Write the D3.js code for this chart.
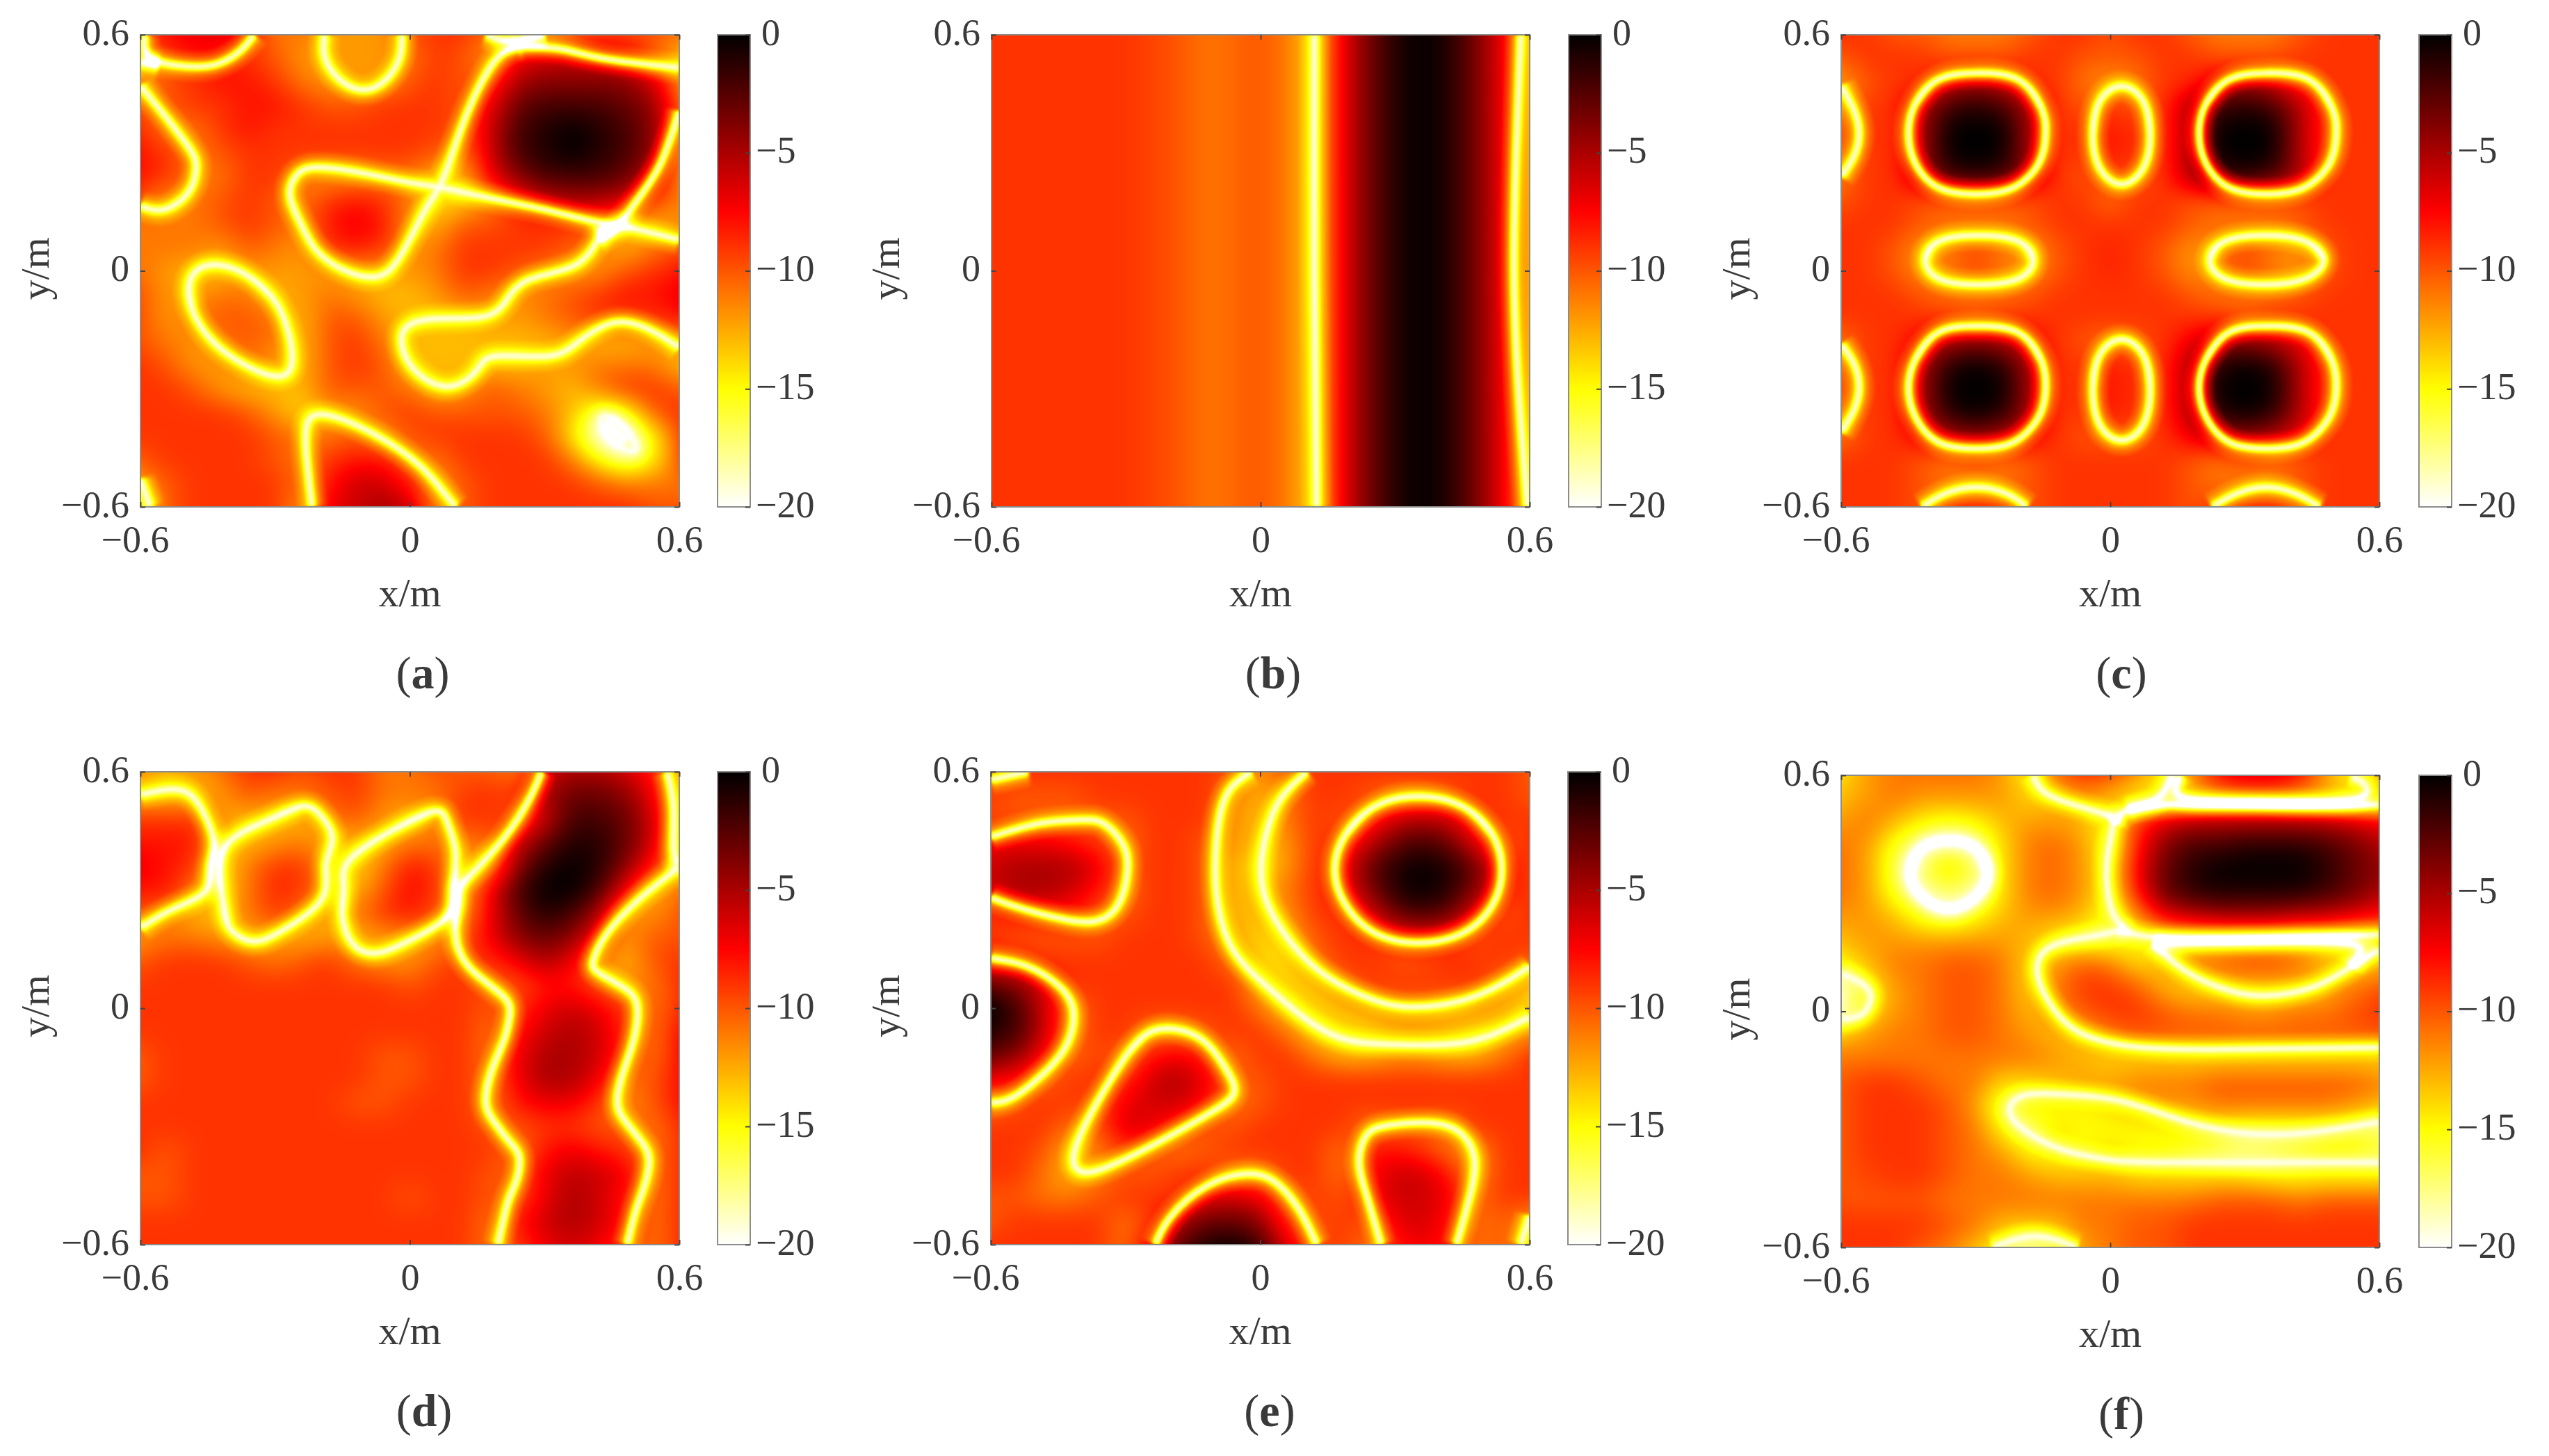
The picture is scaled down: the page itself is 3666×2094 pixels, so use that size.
<!DOCTYPE html>
<html>
<head>
<meta charset="utf-8">
<script src="https://cdn.jsdelivr.net/npm/d3@7"></script>
<style>
body { margin: 0; background: #fff; }
svg text { font-family: "Liberation Serif", serif; fill: #3a3a3a; }
</style>
</head>
<body>
<script>
// level below the peak, in dB (shown as negative), on a 0.06 m lattice, top row is y = 0.6
var gridA = [
[9,8,7,7,8,11,11,12,12,12,10,9,9,11,12,11,10,9,9,10,11],
[12,9,8,8,9,10,12,12,12,12,11,9,10,12,7,6,6,6,7,10,13],
[12,10,9,8,8,9,11,12,12,12,10,9,10,9,5,4,4,4,4,6,11],
[10,10,9,9,8,8,9,10,10,9,9,9,10,7,3,2,2,2,3,4,10],
[9,11,11,9,8,9,9,9,9,9,9,9,10,6,2,1,0,1,2,4,9],
[8,9,11,10,9,9,9,9,9,9,9,10,11,6,2,1,0,1,2,4,10],
[8,9,11,11,9,9,11,12,12,11,11,13,13,7,4,2,2,2,3,6,11],
[10,12,11,10,9,10,11,9,8,9,11,14,14,11,8,6,5,5,6,9,11],
[11,11,11,10,9,10,11,8,7,8,12,13,10,10,9,9,9,10,12,13,12],
[11,11,11,12,10,11,12,9,8,9,12,11,9,9,9,9,10,11,13,11,10],
[11,12,13,13,12,12,12,12,12,12,12,11,9,9,10,11,12,12,10,9,8],
[10,12,12,11,11,13,12,11,12,13,13,12,10,11,12,11,10,9,8,8,7],
[10,12,11,10,10,11,13,10,10,12,13,13,13,12,12,11,10,9,9,9,8],
[10,11,12,11,10,11,13,10,9,11,13,13,13,13,13,13,12,13,13,12,12],
[9,10,12,12,11,12,13,10,9,10,13,13,13,13,13,12,12,11,11,11,13],
[9,9,10,12,13,13,13,10,10,10,11,13,12,10,11,12,13,11,9,9,10],
[9,9,9,9,10,12,14,12,12,10,9,10,10,10,10,11,13,17,16,10,9],
[9,9,9,9,9,10,11,11,10,12,10,9,9,9,9,10,14,20,20,15,10],
[10,9,9,9,9,10,11,9,8,8,11,11,9,9,9,9,11,15,18,15,10],
[12,10,9,9,9,9,11,8,6,6,8,12,10,9,9,9,9,10,11,11,11],
[14,10,9,9,9,9,12,7,6,5,6,12,10,9,9,9,9,9,9,10,10]
];
// panel (b) hardly changes with y, one row read along x
var rowB = [9,9,9,9,9,9,9.5,10,11,10.5,10,11,14,7,3.5,1,0,1,3.5,7,12];
var gridC = [
[9,9,10,10,11,11,11,10,9,9,10,9,9,10,11,11,11,10,9,9,9],
[10,9,9,9,10,10,10,9,9,10,10,10,9,9,10,10,10,9,9,9,9],
[12,10,9,9,6,5,6,9,9,11,12,11,9,9,6,5,6,9,9,9,9],
[11,9,9,5,2,1,2,5,9,10,9,10,9,5,2,1,2,5,9,9,9],
[10,9,9,5,0,0,0,5,9,9,8,9,9,5,0,0,0,5,9,9,9],
[10,9,9,5,0,0,0,5,9,9,8,9,9,5,0,0,0,5,9,9,9],
[11,9,9,5,2,1,2,5,9,10,9,10,9,5,2,1,2,5,9,9,9],
[10,9,9,10,10,10,10,10,9,9,11,9,9,10,10,10,10,10,9,9,9],
[9,9,9,10,11,11,11,10,9,9,9,9,9,10,11,11,11,10,9,9,9],
[9,9,10,12,11,9.5,11,12,10,9,8.5,9,10,12,11,9.5,11,12,10,9,9],
[9,9,10,12,11,9.5,11,12,10,9,8.5,9,10,12,11,9.5,11,12,10,9,9],
[9,9,9,10,11,11,11,10,9,9,9,9,9,10,11,11,11,10,9,9,9],
[9,9,9,9,9,10,9,9,9,9,9,9,9,9,9,10,9,9,9,9,9],
[11,9,9,7,5,4,5,7,9,10,11,10,9,7,5,4,5,7,9,9,9],
[10,9,9,5,1,0,1,5,9,9,8,9,9,5,1,0,1,5,9,9,9],
[10,9,9,5,0,0,0,5,9,9,8,9,9,5,0,0,0,5,9,9,9],
[10,9,9,5,1,0,1,5,9,9,8,9,9,5,1,0,1,5,9,9,9],
[11,9,9,7,5,4,5,7,9,10,10,10,9,7,5,4,5,7,9,9,9],
[9,9,9,10,11,10,11,10,9,9,9,9,9,10,11,10,11,10,9,9,9],
[9,9,9,10,11,11,11,10,9,9,9,9,9,10,11,11,11,10,9,9,9],
[9,9,9,10,9,9,9,10,9,9,9,9,9,10,9,9,9,10,9,9,9]
];
var gridD = [
[12,13,12,11,9,9,10,9,9,11,11,10,10,10,11,6,5,5,6,8,12],
[13,13,13,12,10,11,11,10,9,11,11,11,9,9,9,5,3,3,4,7,12],
[9,9,9,12,13,13,13,11,10,12,13,11,9,9,10,6,2,2,3,6,12],
[8,8,8,13,13,12,11,13,13,13,11,11,11,11,6,3,1,1,3,6,13],
[7,8,9,14,11,9,9,12,14,11,8,9,13,12,4,1,0,1,4,8,13],
[8,8,11,14,11,8.5,9,12,13,10,7.5,9,13,7,2,0,0,2,7,13,11],
[10,11,13,13,11,9,11,13,11,9,8,10,12,7,3,1,2,5,12,12,10],
[12,11,11,12,13,12,13,12,13,12,12,12,10,7,4,3,4,8,12,10,10],
[10,9,9,9,10,11,10,9,11,12,12,10,9,9,7,5,7,11,13,10,9],
[9,9,9,9,9,9,9,9,9,9,10,9,9,10,10,8,8,10,12,11,9],
[9,9,9,9,9,9,9,9,9,9,9,9,9,10,9,7,6,7,9,11,9],
[9,9,9,9,9,9,9,9,9,9,9,9,9,11,8,6,5,6,9,11,8],
[10,9,9,9,9,9,9,9,9,10,10,9,9,11,7,5,5,6,9,11,8],
[10,9,9,9,9,9,9,9,9,10,10,9,9,11,7,5,5,7,11,10,8],
[9,9,9,9,9,9,9,9,10,10,9,9,9,11,8,7,7,9,12,10,8],
[9,9,9,9,9,9,9,9,9,9,9,9,9,10,10,9,9,10,10,11,9],
[9,10,9,9,9,9,9,9,9,9,9,9,9,9,11,8,7,8,9,11,9],
[10,10,9,9,9,9,9,9,9,9,9,9,9,10,10,7,5.5,6,7,11,9],
[10,10,9,9,9,9,9,9,9,9,10,9,9,10,10,7,5,6,8,11,9],
[9,9,9,9,9,9,9,9,9,9,9,9,9,11,8,6,5,6,8,11,9],
[9,9,9,9,9,9,9,9,9,9,9,9,9,11,9,7,6,7,9,11,9]
];
var gridE = [
[10,9,9,9,9,9,9,9,9,10,12,10,9,9,9,9,9,9,9,9,10],
[9,10,10,10,9,9,9,9,9,11,13,11,9,9,10,11,11,10,9,9,10],
[10,10,10,10,10,10,9,9,9,12,13,11,9,10,9,6,5,6,9,9,9],
[7,7,7,8,9,11,9,9,10,12,13,12,9,9,6,3,2,3,7,10,9],
[6,5,5,5,7,10,9,9,10,13,14,12,9,8,3,1,0,1,3,8,9],
[6,5,5,6,8,11,9,9,10,13,13,11,9,8,4,1,0,1,4,8,9],
[9,8,8,8,10,10,9,9,10,13,13,12,9,9,7,3,2,3,7,10,9],
[9,10,10,10,10,9,9,9,10,12,14,13,10,9,9,8,7,8,10,9,9],
[8,8,9,9,9,9,9,9,9,11,14,14,11,9,9,10,10,9,9,9,10],
[3,4,7,9,9,9,9,9,9,9,13,14,13,11,9,9,9,9,9,11,13],
[0,2,6,11,9,9,9,9,9,9,11,14,14,13,12,11,11,12,12,13,14],
[1,2,6,11,9,9,11,11,10,9,9,11,14,14,14,13,13,13,14,13,12],
[3,4,8,11,9,11,8,7,9,11,9,9,11,13,13,12,12,13,13,11,9],
[7,8,11,9,9,9,6,5,7,10,10,9,9,9,9,9,9,9,9,9,9],
[11,10,9,9,10,7,6,6,8,11,10,9,9,9,9,9,9,9,9,9,9],
[9,9,9,11,10,6,7,9,10,10,9,9,9,9,11,10,10,11,9,9,9],
[9,9,10,13,11,9,10,11,10,9,9,9,9,11,8,8,9,11,12,9,9],
[9,9,11,13,11,10,10,9,9,11,11,9,9,11,8,6,6,8,12,9,9],
[10,10,11,11,10,9,9,9,7,6,7,11,9,10,8,6,6,7,11,9,9],
[10,9,9,9,9,11,9,5,3,3,4,9,10,9,10,7,6,8,11,10,12],
[9,9,9,9,9,11,7,3,1,0.5,2,7,10,9,11,8,7,8,11,10,12]
];
var gridF = [
[14,12,11,11,11,11,12,15,11,9,10,12,15,12,8,7,7,8,12,15,13],
[13,12,11,12,12,12,12,14,13,12,13,15,14,13,12,11,11,12,13,14,14],
[12,11,13,15,16,15,13,12,12,13,15,9,6,5,5,5,5,5,5,6,7],
[11,12,16,18,18,18,14,11,10.5,12,16,8,4,2,2,1,1,1,2,3,5],
[11,12,17,18,12,18,14,11,10.5,12,15,7,3,1,0,0,0,0,1,3,4],
[11,12,16,18,18,18,14,11,10.5,12,15,8,3,1.5,1,1,1,1,2,3,5],
[12,12,13,16,17,15,13,12,12,13,16,12,7,6,5,5,5,6,6,7,8],
[13,12,12,12,12,12,12,13,15,16,16,15,15,14,14,14,14,14,14,15,14],
[15,13,11,11,10,10,11,14,12,10,11,14,13,11,10,9,9,10,13,14,13],
[19,15,12,11,10,10,11,14,11,9,9,10,13,14,14,14,14,14,13,11,10],
[19,14,12,11,10,10,11,13,12,10,9,9,10,11,11,12,12,11,11,10,9],
[13,12,11,11,10,10,11,12,13,13,11,10,10,10,10,10,10,10,10,10,10],
[11,11,11,11,11,11,11,11,12,13,14,14,14,14,14,14,14,14,14,14,14],
[10,9,9,10,11,11,14,14,13,12,12,11,11,11,10,10,10,10,10,10,11],
[10,9,9,9,10,12,17,15,15,15,14,13,12,12,11,11,11,11,11,12,13],
[10,9,9,9,10,11,15,17,14,15,15,15,15,15,15,16,16,16,16,16,17],
[10,9,9,9,10,11,12,15,15,15,14,15,15,16,17,18,17,16,15,15,16],
[10,9.5,9,9,10,11,11,12,13,13,13,14,14,14,14,14,15,15,15,15,15],
[10,10,10,10,11,11,11,11,11,11,11,11,11,11,10,10,10,11,10,10,10],
[9,9,9,9,10,11,13,13,13,11,11,10,10,9,9,9,9,9,9,9,9],
[9,9,9,10,11,13,15,18,15,12,11,10,10,9,9,9,9,9,9,9,9]
];

// the deep nulls (bright lines), as [x, y] in metres. first == last means a closed loop
var nullsA = [
[[-.59,.6],[-.578,.542],[-.5,.52],[-.431,.525],[-.378,.559],[-.347,.6]],
[[-.6,.53],[-.56,.522]],
[[-.6,.47],[-.547,.396],[-.49,.31],[-.476,.26],[-.493,.2],[-.547,.156],[-.6,.165]],
[[-.19,.6],[-.19,.546],[-.16,.49],[-.103,.46],[-.05,.49],[-.022,.546],[-.018,.6]],
[[.17,.6],[.22,.585],[.3,.6]],
[[.245,.572],[.34,.563],[.43,.54],[.6,.516]],
[[.245,.572],[.209,.555],[.173,.507],[.129,.405],[.093,.293],[.067,.216],[.031,.148],[-.022,.036],[-.075,-.015],[-.147,.002],[-.209,.053],[-.244,.122],[-.267,.19],[-.253,.242],[-.209,.263],[-.111,.25],[-.004,.225],[.067,.212],[.173,.186],[.298,.156],[.422,.122],[.476,.113],[.6,.079]],
[[.43,.11],[.422,.087],[.369,.015],[.262,-.024],[.209,-.084],[.156,-.118],[.058,-.122],[-.004,-.14],[-.018,-.187],[.013,-.255],[.085,-.294],[.147,-.255],[.191,-.217],[.307,-.217],[.378,-.178],[.458,-.131],[.538,-.152],[.6,-.195]],
[[.6,.405],[.556,.267],[.502,.173],[.458,.105],[.422,.079]],
[[-.444,.015],[-.489,-.024],[-.484,-.101],[-.44,-.178],[-.369,-.238],[-.289,-.268],[-.262,-.221],[-.276,-.135],[-.307,-.067],[-.369,-.007],[-.444,.015]],
[[-.218,-.6],[-.231,-.461],[-.227,-.384],[-.182,-.367],[-.075,-.418],[.022,-.495],[.076,-.564],[.102,-.6]],
[[-.6,-.53],[-.578,-.6]],
[[.435,-.385],[.48,-.435]],
[[.44,-.37],[.48,-.4],[.505,-.45],[.48,-.455],[.44,-.425],[.425,-.385],[.44,-.37]]
];
var nullsB = [
[[.12,.6],[.12,0],[.125,-.6]],
[[.58,.6],[.57,.3],[.565,0],[.575,-.3],[.595,-.6]]
];
var nullsC = [
[[-.299,.503],[-.205,.486],[-.153,.413],[-.144,.349],[-.158,.276],[-.215,.212],[-.299,.195],[-.384,.212],[-.436,.276],[-.45,.349],[-.436,.422],[-.384,.486],[-.299,.503]],
[[.349,.503],[.443,.486],[.495,.413],[.504,.349],[.49,.276],[.433,.212],[.349,.195],[.264,.212],[.212,.276],[.198,.349],[.212,.422],[.264,.486],[.349,.503]],
[[-.299,-.14],[-.205,-.157],[-.153,-.23],[-.144,-.298],[-.158,-.368],[-.215,-.435],[-.299,-.452],[-.384,-.435],[-.436,-.368],[-.45,-.298],[-.436,-.228],[-.384,-.157],[-.299,-.14]],
[[.349,-.14],[.443,-.157],[.495,-.23],[.504,-.298],[.49,-.368],[.433,-.435],[.349,-.452],[.264,-.435],[.212,-.368],[.198,-.298],[.212,-.228],[.264,-.157],[.349,-.14]],
[[.025,.469],[.074,.43],[.089,.345],[.074,.262],[.025,.22],[-.024,.262],[-.039,.345],[-.024,.43],[.025,.469]],
[[.025,-.174],[.074,-.215],[.089,-.3],[.074,-.39],[.025,-.431],[-.024,-.39],[-.039,-.3],[-.024,-.215],[.025,-.174]],
[[-.295,.09],[-.205,.075],[-.172,.028],[-.205,-.02],[-.295,-.035],[-.382,-.02],[-.412,.028],[-.382,.075],[-.295,.09]],
[[.345,.09],[.435,.075],[.476,.028],[.435,-.02],[.345,-.035],[.255,-.02],[.222,.028],[.255,.075],[.345,.09]],
[[-.6,.47],[-.572,.41],[-.56,.35],[-.572,.29],[-.6,.24]],
[[-.6,-.187],[-.572,-.235],[-.56,-.295],[-.572,-.355],[-.6,-.41]],
[[-.42,-.6],[-.37,-.567],[-.3,-.55],[-.23,-.567],[-.186,-.6]],
[[.227,-.6],[.28,-.567],[.347,-.55],[.415,-.567],[.467,-.6]]
];
var nullsD = [
[[-.6,.542],[-.538,.555],[-.489,.542],[-.453,.482],[-.436,.414],[-.444,.354],[-.458,.294],[-.529,.251],[-.6,.204]],
[[-.413,.405],[-.324,.473],[-.244,.512],[-.2,.491],[-.173,.431],[-.187,.362],[-.196,.277],[-.28,.2],[-.351,.17],[-.404,.208],[-.418,.285],[-.413,.405]],
[[-.138,.371],[-.058,.439],[.049,.499],[.084,.469],[.102,.396],[.098,.311],[.084,.234],[-.004,.17],[-.076,.14],[-.129,.166],[-.151,.243],[-.147,.311],[-.138,.371]],
[[.293,.6],[.271,.542],[.209,.431],[.124,.324],[.107,.277],[.102,.183],[.138,.097],[.209,.029],[.222,-.022],[.209,-.082],[.182,-.159],[.169,-.236],[.187,-.287],[.222,-.339],[.244,-.381],[.236,-.441],[.218,-.493],[.196,-.6]],
[[.573,.6],[.587,.508],[.587,.405],[.6,.367]],
[[.6,.358],[.511,.277],[.44,.191],[.409,.123],[.422,.089],[.484,.046],[.507,-.005],[.498,-.082],[.476,-.159],[.462,-.236],[.48,-.287],[.516,-.339],[.533,-.39],[.52,-.459],[.502,-.518],[.484,-.6]]
];
var nullsE = [
[[-.6,.58],[-.517,.6]],
[[-.6,.435],[-.492,.469],[-.403,.478],[-.349,.469],[-.305,.414],[-.296,.345],[-.318,.26],[-.367,.221],[-.438,.226],[-.536,.255],[-.6,.281]],
[[-.6,.127],[-.518,.106],[-.447,.055],[-.416,-.01],[-.434,-.099],[-.492,-.176],[-.554,-.228],[-.6,-.24]],
[[-.02,.6],[-.065,.559],[-.091,.482],[-.1,.354],[-.091,.243],[-.056,.14],[.015,.055],[.095,-.022],[.175,-.074],[.273,-.091],[.424,-.091],[.522,-.065],[.6,-.022]],
[[.104,.6],[.042,.525],[.011,.431],[.002,.354],[.015,.268],[.069,.166],[.149,.08],[.255,.02],[.344,.003],[.451,.02],[.54,.063],[.6,.106]],
[[.351,.538],[.451,.512],[.518,.439],[.538,.352],[.518,.264],[.451,.191],[.351,.166],[.255,.191],[.189,.264],[.166,.352],[.189,.439],[.255,.512],[.351,.538]],
[[-.198,-.052],[-.252,-.065],[-.296,-.116],[-.349,-.211],[-.394,-.305],[-.416,-.382],[-.394,-.416],[-.332,-.399],[-.225,-.339],[-.118,-.27],[-.06,-.219],[-.074,-.159],[-.127,-.082],[-.198,-.052]],
[[-.234,-.6],[-.198,-.527],[-.118,-.45],[-.029,-.42],[.033,-.441],[.086,-.51],[.126,-.6]],
[[.269,-.6],[.237,-.476],[.22,-.39],[.237,-.322],[.291,-.296],[.389,-.292],[.451,-.322],[.477,-.382],[.469,-.467],[.437,-.6]],
[[.6,-.527],[.58,-.6]]
];
var nullsF = [
[[-.172,.6],[-.149,.559],[-.092,.529],[-.017,.503],[.006,.473],[-.008,.37],[.006,.25],[.02,.207],[-.064,.186],[-.139,.16],[-.163,.105],[-.139,.028],[-.074,-.05],[.039,-.088],[.218,-.097],[.6,-.092]],
[[.138,.6],[.1,.537],[.039,.512],[.011,.477]],
[[.039,.512],[.133,.525],[.359,.523],[.6,.525]],
[[.157,.6],[.147,.563],[.19,.537],[.359,.533],[.537,.537],[.57,.572],[.537,.597]],
[[.02,.207],[.124,.186],[.359,.186],[.6,.195]],
[[.096,.173],[.171,.1],[.265,.053],[.349,.04],[.453,.062],[.537,.113],[.6,.156]],
[[.096,.173],[.265,.177],[.5,.175],[.556,.152],[.537,.113]],
[[-.36,.44],[-.295,.417],[-.268,.353],[-.295,.289],[-.36,.255],[-.425,.289],[-.452,.353],[-.425,.417],[-.36,.44]],
[[-.36,.428],[-.303,.408],[-.28,.353],[-.303,.297],[-.36,.268],[-.417,.297],[-.44,.353],[-.417,.408],[-.36,.428]],
[[-.6,.096],[-.553,.07],[-.534,.036],[-.553,-.007],[-.6,-.02]],
[[.6,-.281],[.453,-.307],[.312,-.311],[.171,-.281],[.03,-.23],[-.092,-.212],[-.186,-.212],[-.224,-.247],[-.196,-.298],[-.111,-.35],[-.017,-.375],[.124,-.384],[.6,-.384]],
[[-.262,-.6],[-.168,-.572],[-.074,-.6]]
];

var axisTicks = [-0.6, 0, 0.6];
var barTicks = [0, -5, -10, -15, -20];
var panelNames = ["a", "b", "c", "d", "e", "f"];

var gridB = gridA.map(function(){ return rowB; });
var grids = [gridA, gridB, gridC, gridD, gridE, gridF];
var nulls = [nullsA, nullsB, nullsC, nullsD, nullsE, nullsF];

// where each panel sits on the page
var boxes = [
	{x0: 202, x1: 977, y0: 50, y1: 729, bx: 1032, ylab: 56, letter: 608},
	{x0: 1426, x1: 2200, y0: 50, y1: 729, bx: 2256, ylab: 1279, letter: 1831},
	{x0: 2648, x1: 3422, y0: 50, y1: 729, bx: 3479, ylab: 2502, letter: 3051},
	{x0: 202, x1: 977, y0: 1110, y1: 1790, bx: 1032, ylab: 56, letter: 610},
	{x0: 1425, x1: 2200, y0: 1110, y1: 1790, bx: 2255, ylab: 1279, letter: 1826},
	{x0: 2648, x1: 3422, y0: 1115, y1: 1794, bx: 3479, ylab: 2502, letter: 3051}
];

// MATLAB style reversed "hot"
var color = d3.scaleLinear()
	.domain([0, -7.5, -15, -20])
	.range(["#000000", "#ff0000", "#ffff00", "#ffffff"])
	.clamp(true);

function fmt(d) {
	if (d == 0) return "0";
	return (d < 0 ? "\u2212" : "") + Math.abs(d);
}

// stacked strokes give the falloff either side of a null
var strokeLayers = [[42, .10], [27, .15], [15, .25], [8, .25], [4, .25]];

function drawHeat(grid, curves, x, y, w, h) {
	var mask = document.createElement("canvas");
	mask.width = w; mask.height = h;
	var mc = mask.getContext("2d");
	mc.fillStyle = "#000";
	mc.fillRect(0, 0, w, h);
	mc.globalCompositeOperation = "lighter";
	mc.filter = "blur(2.5px)";
	mc.lineJoin = "round";
	var line = d3.line().x(function(d){ return x(d[0]); }).y(function(d){ return y(d[1]); })
		.curve(d3.curveNatural).context(mc);
	strokeLayers.forEach(function(l){
		mc.lineWidth = l[0];
		mc.strokeStyle = "rgba(255,255,255," + l[1] + ")";
		curves.forEach(function(c){
			var last = c[c.length - 1];
			var isLoop = c[0][0] == last[0] && c[0][1] == last[1];
			// a loop runs past its own start so the spline closes without a kink
			var pts = isLoop ? c.slice(-3, -1).concat(c, c.slice(1, 3)) : c;
			mc.beginPath();
			line(pts);
			mc.stroke();
		});
	});
	var m = mc.getImageData(0, 0, w, h).data;

	var out = document.createElement("canvas");
	out.width = w; out.height = h;
	var oc = out.getContext("2d");
	var img = oc.createImageData(w, h);
	var rows = grid.map(function(r){ return d3.interpolateBasis(r); });
	var tx = d3.scaleLinear().domain([-0.6, 0.6]).range([0, 1]);
	var ty = d3.scaleLinear().domain([0.6, -0.6]).range([0, 1]);
	for (var i = 0; i < w; i++) {
		var t = tx(x.invert(i + .5));
		var col = d3.interpolateBasis(rows.map(function(f){ return f(t); }));
		for (var j = 0; j < h; j++) {
			var p = (j * w + i) * 4;
			var base = col(ty(y.invert(j + .5)));
			var v = base + (20 - base) * (m[p] / 255);
			var c = d3.rgb(color(-v));
			img.data[p] = c.r; img.data[p + 1] = c.g; img.data[p + 2] = c.b; img.data[p + 3] = 255;
		}
	}
	oc.putImageData(img, 0, 0);
	return out.toDataURL("image/png");
}

var svg = d3.select("body").append("svg")
	.attr("width", 3666)
	.attr("height", 2094)
	.style("display", "block");

boxes.forEach(function(b, n){
	var w = b.x1 - b.x0, h = b.y1 - b.y0;
	var x = d3.scaleLinear().domain([-0.6, 0.6]).range([0, w]);
	var y = d3.scaleLinear().domain([0.6, -0.6]).range([0, h]);
	var g = svg.append("g").attr("transform", "translate(" + b.x0 + "," + b.y0 + ")");

	g.append("image")
		.attr("width", w).attr("height", h)
		.attr("href", drawHeat(grids[n], nulls[n], x, y, w, h));

	g.append("rect").attr("width", w).attr("height", h)
		.attr("fill", "none").attr("stroke", "#8c8c8c").attr("stroke-width", 2);

	// small inward ticks, labels outside
	var bottom = g.append("g").attr("transform", "translate(0," + h + ")")
		.call(d3.axisBottom(x).tickValues(axisTicks).tickSize(-7).tickPadding(27).tickFormat(fmt));
	var left = g.append("g")
		.call(d3.axisLeft(y).tickValues(axisTicks).tickSize(-7).tickPadding(16).tickFormat(fmt));
	g.append("g").call(d3.axisTop(x).tickValues(axisTicks).tickSize(-7).tickFormat(""));
	g.append("g").attr("transform", "translate(" + w + ",0)")
		.call(d3.axisRight(y).tickValues(axisTicks).tickSize(-7).tickFormat(""));
	g.selectAll(".domain").remove();
	g.selectAll(".tick line").attr("stroke", "#444").attr("stroke-width", 2);
	bottom.selectAll("text").attr("font-size", 54).attr("font-family", null)
		.attr("fill", null)
		.attr("dx", function(d){ return d < 0 ? -8 : 0; });
	left.selectAll("text").attr("font-size", 54).attr("font-family", null)
		.attr("fill", null).attr("dy", "0.26em");

	g.append("text").attr("x", w / 2).attr("y", h + 143)
		.attr("text-anchor", "middle").attr("font-size", 58).text("x/m");
	g.append("text")
		.attr("transform", "translate(" + (b.ylab - b.x0 + 14) + "," + (h / 2 - 3) + ") rotate(-90)")
		.attr("text-anchor", "middle").attr("font-size", 58).text("y/m");

	var lab = g.append("text").attr("x", b.letter - b.x0).attr("y", h + 261)
		.attr("text-anchor", "middle").attr("font-size", 66);
	lab.append("tspan").text("(");
	lab.append("tspan").attr("font-weight", "bold").text(panelNames[n]);
	lab.append("tspan").text(")");

	// colour bar
	var bw = 47;
	var barY = d3.scaleLinear().domain([0, -20]).range([0, h]);
	var bar = svg.append("g").attr("transform", "translate(" + b.bx + "," + b.y0 + ")");
	bar.selectAll("rect").data(d3.range(0, h)).enter().append("rect")
		.attr("y", function(d){ return d; })
		.attr("width", bw).attr("height", 1.5)
		.attr("fill", function(d){ return color(barY.invert(d + .5)); });
	bar.append("rect").attr("width", bw).attr("height", h)
		.attr("fill", "none").attr("stroke", "#8c8c8c").attr("stroke-width", 2);
	var barAxis = bar.append("g").attr("transform", "translate(" + bw + ",0)")
		.call(d3.axisRight(barY).tickValues(barTicks).tickSize(-7).tickPadding(8).tickFormat(fmt));
	barAxis.select(".domain").remove();
	barAxis.selectAll(".tick line").attr("stroke", "#444").attr("stroke-width", 2);
	barAxis.selectAll("text").attr("font-size", 54).attr("font-family", null)
		.attr("fill", null).attr("dy", "0.26em")
		.attr("x", function(d){ return d == 0 ? 16 : 8; });
});
</script>
</body>
</html>
